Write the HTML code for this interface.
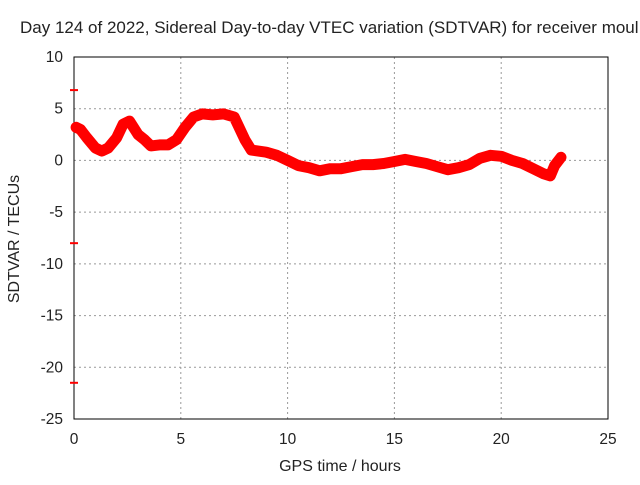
<!DOCTYPE html>
<html><head><meta charset="utf-8"><style>
body{margin:0;background:#fff}
svg text{font-family:"Liberation Sans",sans-serif;font-size:15.5px;fill:#222}
</style></head><body>
<svg id="chart" width="640" height="480" xmlns="http://www.w3.org/2000/svg">
<text x="20" y="33" style="font-size:17px">Day 124 of 2022, Sidereal Day-to-day VTEC variation (SDTVAR) for receiver moul</text>
<g id="grid"></g>
<g id="axes"></g>
<g id="series"></g>
<text x="340" y="471" text-anchor="middle" style="font-size:16px">GPS time / hours</text>
<text transform="translate(19,239) rotate(-90)" text-anchor="middle" style="font-size:16px">SDTVAR / TECUs</text>
</svg>
<script>
const hours=[0.1,0.3,0.6,1.0,1.3,1.6,2.0,2.3,2.6,3.0,3.3,3.6,4.0,4.4,4.8,5.2,5.6,6.0,6.5,7.0,7.5,8.0,8.3,9,9.5,10,10.5,11,11.5,12,12.5,13,13.5,14,14.5,15,15.5,16,16.5,17,17.5,18,18.5,19,19.5,20,20.5,21,21.5,22,22.3,22.5,22.8];
const sdtvar=[3.2,3.0,2.2,1.2,0.9,1.2,2.2,3.5,3.8,2.5,2.0,1.4,1.5,1.5,2.0,3.2,4.2,4.5,4.4,4.5,4.2,2.0,1.0,0.8,0.5,0,-0.5,-0.7,-1.0,-0.8,-0.8,-0.6,-0.4,-0.4,-0.3,-0.1,0.1,-0.1,-0.3,-0.6,-0.9,-0.7,-0.4,0.2,0.5,0.4,0.0,-0.3,-0.8,-1.3,-1.5,-0.5,0.3];
const xTicks=[0,5,10,15,20,25];
const yTicks=[10,5,0,-5,-10,-15,-20,-25];
const outliers=[6.8,-8,-21.5];
const NS="http://www.w3.org/2000/svg";
const X0=74,X1=608,Y0=57,Y1=419;
const sx=h=>X0+(h-0)/(25-0)*(X1-X0);
const sy=v=>Y0+(10-v)/(10-(-25))*(Y1-Y0);
function mk(tag,attrs,parent){const e=document.createElementNS(NS,tag);for(const k in attrs)e.setAttribute(k,attrs[k]);parent.appendChild(e);return e;}
const grid=document.getElementById('grid'),axes=document.getElementById('axes'),series=document.getElementById('series');
xTicks.forEach(t=>{
  if(t>0&&t<25){const l=mk('line',{x1:sx(t),x2:sx(t),y1:Y0,y2:Y1,stroke:'#999','stroke-dasharray':'2,3'},grid);
  
  }
  const tx=mk('text',{x:sx(t),y:Y1+25,'text-anchor':'middle'},axes);tx.textContent=t;
  
  
});
yTicks.forEach(t=>{
  if(t<10&&t>-25){const l=mk('line',{x1:X0,x2:X1,y1:sy(t),y2:sy(t),stroke:'#999','stroke-dasharray':'2,3'},grid);
  
  }
  const tx=mk('text',{x:X0-11,y:sy(t)+5,'text-anchor':'end'},axes);tx.textContent=t;
  
  
});
const fr=mk('rect',{x:X0,y:Y0,width:X1-X0,height:Y1-Y0,fill:'none',stroke:'#000','stroke-width':1},axes);


const pts=hours.map((h,i)=>sx(h).toFixed(1)+','+sy(sdtvar[i]).toFixed(1)).join(' ');
const pl=mk('polyline',{points:pts,fill:'none',stroke:'#f00','stroke-width':11,'stroke-linejoin':'round','stroke-linecap':'round'},series);


outliers.forEach(v=>{
  const l=mk('line',{x1:X0-4,x2:X0+4,y1:sy(v),y2:sy(v),stroke:'#f00','stroke-width':2},series);
  
  
});
</script>
</body></html>
